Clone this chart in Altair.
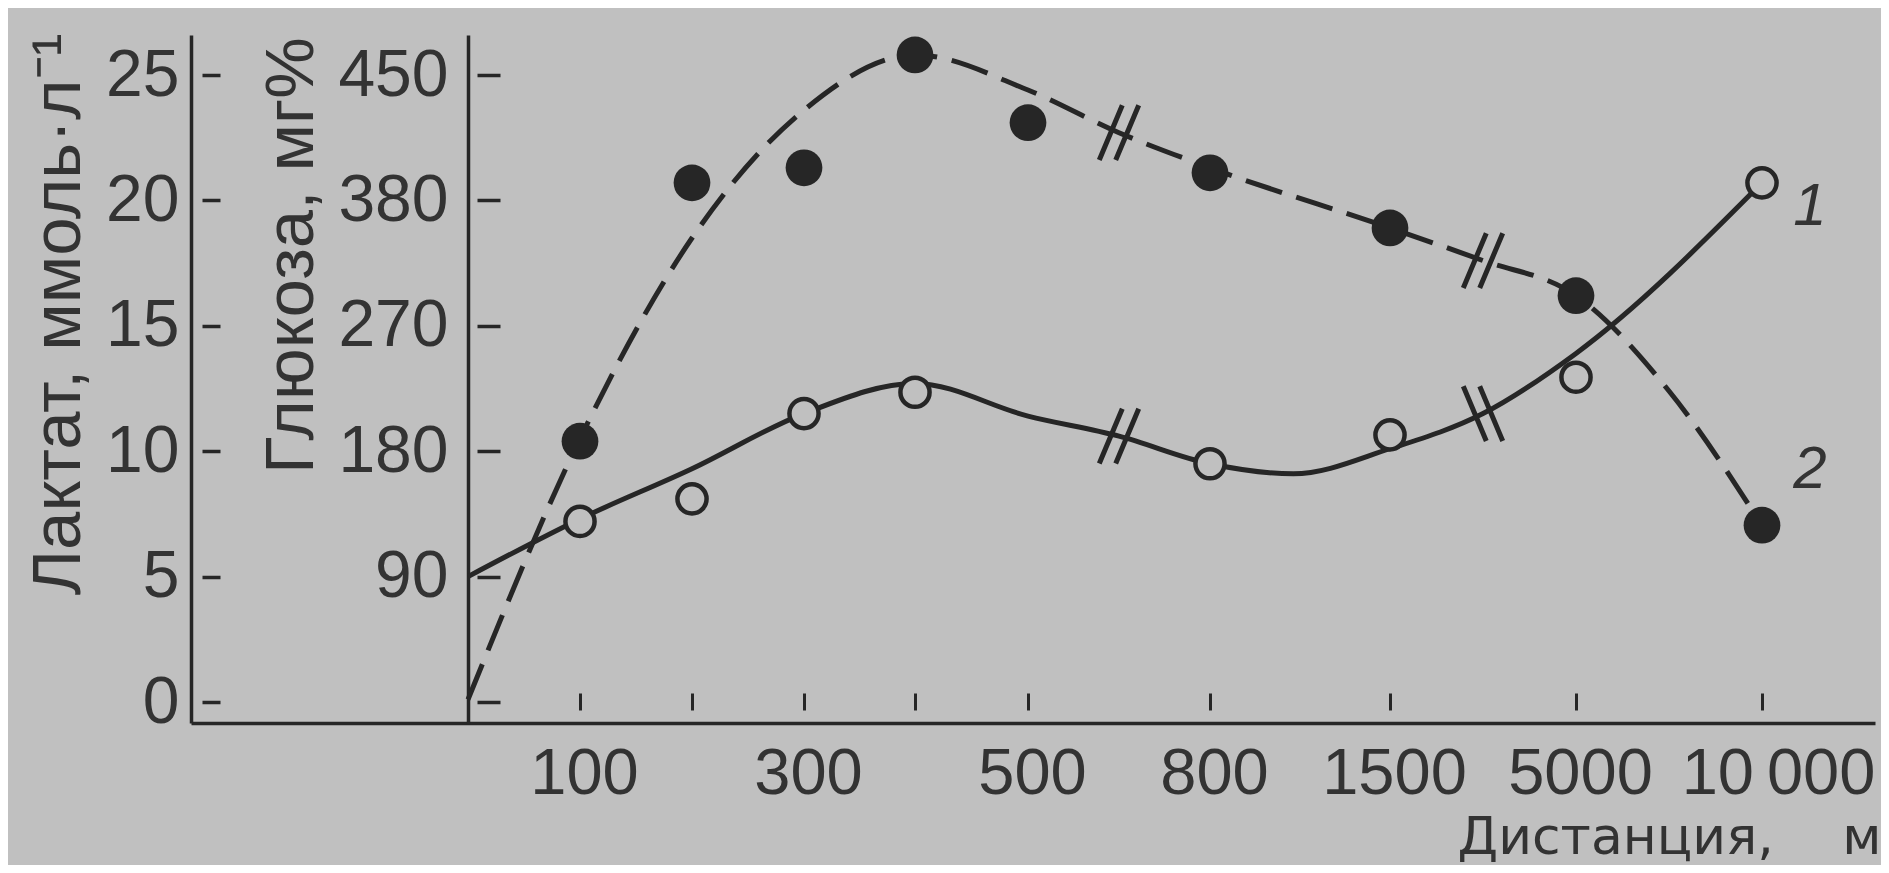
import altair as alt
import pandas as pd

# ---- data ----------------------------------------------------------------
distances = [100, 200, 300, 400, 500, 800, 1500, 5000, 10000]
x_labels = ["100", "", "300", "", "500", "800", "1500", "5000", "10\u2009000"]

# curve 2 (filled circles, dashed line)
filled_x = [100, 200, 300, 400, 500, 800, 1500, 5000, 10000]
filled_y = [10.4, 20.7, 21.3, 25.8, 23.1, 21.1, 18.9, 16.2, 7.05]

# curve 1 (open circles, solid line)
open_x = [100, 200, 300, 400, 800, 1500, 5000, 10000]
open_y = [7.2, 8.1, 11.5, 12.35, 9.5, 10.65, 12.95, 20.7]

# hand-drawn smooth curves
dash_curve_x = [0, 100, 200, 300, 400, 500, 650, 800, 1500, 3250, 5000, 7500, 10000]
dash_curve_y = [0.1, 10.5, 18.5, 23.6, 25.8, 24.4, 22.7, 21.3, 18.9, 17.6, 16.2, 12.4, 7.05]
solid_curve_x = [0, 100, 200, 300, 400, 500, 650, 800, 1124, 1500, 3250, 5000, 10000]
solid_curve_y = [5.0, 7.3, 9.3, 11.5, 12.7, 11.4, 10.6, 9.5, 9.1, 10.1, 11.5, 13.9, 20.7]

# axis breaks (//) on both curves
break_x = [650, 3250]

lactate_ticks = [0, 5, 10, 15, 20, 25]
lactate_labels = ["0", "5", "10", "15", "20", "25"]
glucose_labels = ["", "90", "180", "270", "380", "450"]

# ---- broken (piecewise) distance scale ------------------------------------
x_domain = [-247, 0, 100, 200, 300, 400, 500, 800, 1500, 5000, 10000, 13038]
x_range = [0, 277, 389, 501, 613, 724, 837, 1019, 1199, 1385, 1571, 1684]
W, H = 1684, 688
xscale = alt.Scale(domain=x_domain, range=x_range, nice=False, zero=False)
yscale = alt.Scale(domain=[-0.837, 26.595], nice=False, zero=False)

INK = "#262626"
TXT = "#333333"
BG = "#c0c0c0"
FONT = "Liberation Sans"
WIDE = "DejaVu Sans"


def mapping_expr(values, labels, field="datum.value"):
    expr = "''"
    for v, l in zip(values, labels):
        expr = f"({field} == {v} ? '{l}' : {expr})"
    return expr


dash_df = pd.DataFrame({"d": dash_curve_x, "v": dash_curve_y})
solid_df = pd.DataFrame({"d": solid_curve_x, "v": solid_curve_y})
filled_df = pd.DataFrame({"d": filled_x, "v": filled_y})
open_df = pd.DataFrame({"d": open_x, "v": open_y})

dash_lookup = dict(zip(dash_curve_x, dash_curve_y))
solid_lookup = dict(zip(solid_curve_x, solid_curve_y))


def tilt(xs, ys, x):
    i = xs.index(x)
    return "up" if ys[i + 1] > ys[i - 1] else "down"


break_rows = []
for bx in break_x:
    break_rows.append({"d": bx, "v": dash_lookup[bx], "t": tilt(dash_curve_x, dash_curve_y, bx)})
    break_rows.append({"d": bx, "v": solid_lookup[bx], "t": tilt(solid_curve_x, solid_curve_y, bx)})
break_df = pd.DataFrame(break_rows)

label_vals = [d for d, l in zip(distances, x_labels) if l]
label_txt = [l for l in x_labels if l]

# ---- layers ---------------------------------------------------------------
dashed = alt.Chart(dash_df).mark_line(
    interpolate="monotone", strokeDash=[38, 15], strokeWidth=5, color=INK
).encode(
    x=alt.X("d:Q", scale=xscale, axis=alt.Axis(
        orient="bottom", values=label_vals, labelExpr=mapping_expr(label_vals, label_txt),
        ticks=False, domain=True, domainColor=INK, domainWidth=3.5, grid=False,
        labelPadding=19, labelFont=FONT, labelFontSize=65, labelColor=TXT,
        labelOffset={"condition": {"test": "datum.value == 10000", "value": 16}, "value": 4},
        labelFlush=False, labelOverlap=False, labelLimit=500,
        title="Дистанция, \u2003м", titleFont=WIDE, titleFontSize=52,
        titleFontWeight="normal",
        titleColor=TXT, titleAngle=0, titleAlign="right", titleBaseline="alphabetic",
        titleX=1690, titleY=130)),
    y=alt.Y("v:Q", scale=yscale, axis=alt.Axis(
        orient="left", values=lactate_ticks,
        labelExpr=mapping_expr(lactate_ticks, lactate_labels),
        ticks=False, domain=True, domainColor=INK, domainWidth=3.5, grid=False,
        labelPadding=12, labelFont=FONT, labelFontSize=66, labelColor=TXT,
        labelFlush=False, labelOverlap=False,
        title="Лактат, ммоль·л⁻¹", titleFont=FONT, titleFontSize=69,
        titleFontWeight="normal", titleColor=TXT, titleAngle=-90, titleAlign="right",
        titleBaseline="alphabetic", titleX=-112, titleY=-2)),
)

solid = alt.Chart(solid_df).mark_line(
    interpolate="monotone", strokeWidth=5, color=INK
).encode(
    x=alt.X("d:Q", scale=xscale, axis=None),
    y=alt.Y("v:Q", scale=yscale, axis=alt.Axis(
        orient="left", offset=-277, values=lactate_ticks,
        labelExpr=mapping_expr(lactate_ticks, glucose_labels),
        ticks=False, domain=True, domainColor=INK, domainWidth=3.5, grid=False,
        labelPadding=20, labelFont=FONT, labelFontSize=66, labelColor=TXT,
        labelFlush=False, labelOverlap=False,
        title="Глюкоза, мг%", titleFont=FONT, titleFontSize=69,
        titleFontWeight="normal", titleColor=TXT, titleAngle=-90, titleAlign="right",
        titleBaseline="alphabetic", titleX=-156, titleY=2)),
)

filled_pts = alt.Chart(filled_df).mark_point(
    shape="circle", filled=True, size=1350, color=INK, opacity=1
).encode(
    x=alt.X("d:Q", scale=xscale, axis=alt.Axis(
        orient="bottom", offset=-30, values=distances, labels=False, domain=False,
        grid=False, ticks=True, tickSize=17, tickWidth=3, tickColor=INK, title=None)),
    y=alt.Y("v:Q", scale=yscale, axis=alt.Axis(
        orient="left", offset=-29, values=lactate_ticks, labels=False, domain=False,
        grid=False, ticks=True, tickSize=18, tickWidth=3.5, tickColor=INK, title=None)),
)

open_pts = alt.Chart(open_df).mark_point(
    shape="circle", filled=True, size=850, fill=BG, stroke=INK, strokeWidth=4.5, opacity=1
).encode(
    x=alt.X("d:Q", scale=xscale, axis=None),
    y=alt.Y("v:Q", scale=yscale, axis=alt.Axis(
        orient="left", offset=-309, values=lactate_ticks, labels=False, domain=False,
        grid=False, ticks=True, tickSize=23, tickWidth=3.5, tickColor=INK, title=None)),
)

slash_down = "M-0.72,1L0.12,-1M-0.12,1L0.72,-1"
slash_up = "M-0.72,-1L0.12,1M-0.12,-1L0.72,1"
breaks = alt.Chart(break_df).mark_point(
    filled=False, size=3000, strokeWidth=5, color=INK, opacity=1
).encode(
    x=alt.X("d:Q", scale=xscale, axis=None),
    y=alt.Y("v:Q", scale=yscale, axis=None),
    shape=alt.Shape("t:N", scale=alt.Scale(domain=["down", "up"], range=[slash_down, slash_up]),
                    legend=None),
)

end_open = open_df[open_df["d"] == open_x[-1]].assign(lbl="1")
end_filled = filled_df[filled_df["d"] == filled_x[-1]].assign(lbl="2")

lab1 = alt.Chart(end_open).mark_text(
    font=FONT, fontSize=60, fontStyle="italic", color=TXT, dx=48, dy=24
).encode(
    x=alt.X("d:Q", scale=xscale, axis=None),
    y=alt.Y("v:Q", scale=yscale, axis=None),
    text="lbl:N",
)
lab2 = alt.Chart(end_filled).mark_text(
    font=FONT, fontSize=60, fontStyle="italic", color=TXT, dx=48, dy=-55
).encode(
    x=alt.X("d:Q", scale=xscale, axis=None),
    y=alt.Y("v:Q", scale=yscale, axis=None),
    text="lbl:N",
)

chart = alt.layer(
    dashed, solid, breaks, filled_pts, open_pts, lab1, lab2
).resolve_axis(
    x="independent", y="independent"
).properties(
    width=W, height=H,
    background=BG,
    autosize=alt.AutoSizeParams(type="none"),
    padding={"left": 183, "top": 27, "right": 6, "bottom": 142},
).configure_view(stroke=None)

chart.save("out.html", embed_options={"renderer": "svg", "actions": False})
